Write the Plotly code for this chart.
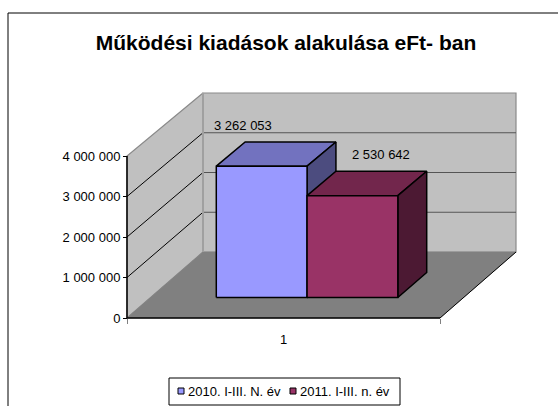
import plotly.graph_objects as go

# ---- data ----
categories = ["1"]
series_names = ["2010. I-III. N. év", "2011. I-III. n. év"]
series_values = [3262053, 2530642]
value_ticks = [0, 1000000, 2000000, 3000000, 4000000]
value_tick_labels = ["0", "1 000 000", "2 000 000", "3 000 000", "4 000 000"]
title_text = "Működési kiadások alakulása eFt- ban"

# ---- style ----
series_colors = ["#9999FF", "#993366"]
FONT = "Liberation Sans, Arial, sans-serif"
FIG_W, FIG_H = 558, 406

# oblique 3-D box: front-left floor corner, category width, value scale (px)
AX_LEFT_PX = 127
CAT_PX = 313
FLOOR_Y_PX = 318
PX_PER_VAL = 40.5e-6
DEPTH_DX_PX, DEPTH_DY_PX = 76, 66
PERSPECTIVE = 0.0185
GROUP_WIDTH = 0.58          # share of the category taken by the bars
BAR_D0, BAR_D1 = 0.31, 0.69  # depth span of the bars
LABEL_XSHIFT = [-48, 0]
VMAX = value_ticks[-1]


def proj(u, v, d):
    """Project (category position, value, depth 0..1) to axis coordinates."""
    x = u + d * DEPTH_DX_PX / CAT_PX
    y = v * (1 - PERSPECTIVE * d) + d * DEPTH_DY_PX / PX_PER_VAL
    return x, y


def shade(hex_color, k):
    h = hex_color.lstrip("#")
    r, g, b = (int(h[i:i + 2], 16) for i in (0, 2, 4))
    return "rgb({},{},{})".format(int(r * k), int(g * k), int(b * k))


def poly(points, fill, line_color, line_width):
    xs = [p[0] for p in points] + [points[0][0]]
    ys = [p[1] for p in points] + [points[0][1]]
    return go.Scatter(x=xs, y=ys, mode="lines", fill="toself", fillcolor=fill,
                      line=dict(color=line_color, width=line_width),
                      hoverinfo="skip", showlegend=False)


def seg(a, b, color, width):
    return go.Scatter(x=[a[0], b[0]], y=[a[1], b[1]], mode="lines",
                      line=dict(color=color, width=width),
                      hoverinfo="skip", showlegend=False)


fig = go.Figure()
L, R = -0.5, 0.5

# walls and floor
fig.add_trace(poly([proj(L, 0, 1), proj(R, 0, 1), proj(R, VMAX, 1), proj(L, VMAX, 1)],
                   "#C0C0C0", "#8a8a8a", 1.2))
fig.add_trace(poly([proj(L, 0, 0), proj(L, 0, 1), proj(L, VMAX, 1), proj(L, VMAX, 0)],
                   "#C0C0C0", "#8a8a8a", 1.2))
fig.add_trace(poly([proj(L, 0, 0), proj(R, 0, 0), proj(R, 0, 1), proj(L, 0, 1)],
                   "#808080", "#808080", 0.5))

# gridlines on the walls
for t in value_ticks[1:-1]:
    fig.add_trace(seg(proj(L, t, 1), proj(R, t, 1), "#555555", 1))
    fig.add_trace(seg(proj(L, t, 0), proj(L, t, 1), "#000000", 1))

# wall corner and box edges
fig.add_trace(seg(proj(L, 0, 1), proj(L, VMAX, 1), "#a0a0a0", 2))
fig.add_trace(seg(proj(L, 0, 0), proj(L, VMAX, 0), "#000000", 1.5))
fig.add_trace(seg(proj(L, 0, 0), proj(R, 0, 0), "#000000", 1.5))
fig.add_trace(seg(proj(R, 0, 0), proj(R, 0, 1), "#000000", 1))

# bars
n = len(series_values)
bw = GROUP_WIDTH / n
annotations = []
for i, (name, v, col) in enumerate(zip(series_names, series_values, series_colors)):
    u0 = -GROUP_WIDTH / 2 + i * bw
    u1 = u0 + bw
    top = [proj(u0, v, BAR_D0), proj(u1, v, BAR_D0), proj(u1, v, BAR_D1), proj(u0, v, BAR_D1)]
    side = [proj(u1, 0, BAR_D0), proj(u1, 0, BAR_D1), proj(u1, v, BAR_D1), proj(u1, v, BAR_D0)]
    front = [proj(u0, 0, BAR_D0), proj(u1, 0, BAR_D0), proj(u1, v, BAR_D0), proj(u0, v, BAR_D0)]
    fig.add_trace(poly(top, shade(col, 0.75), "#000000", 1.5))
    fig.add_trace(poly(side, shade(col, 0.5), "#000000", 1.5))
    fig.add_trace(poly(front, col, "#000000", 1.5))
    lx, ly = proj((u0 + u1) / 2, v, BAR_D1)
    annotations.append(dict(x=lx, y=ly, xref="x", yref="y", showarrow=False,
                            text="{:,}".format(v).replace(",", " "),
                            xshift=LABEL_XSHIFT[i], yshift=17,
                            font=dict(family=FONT, size=13, color="#000000")))


def px(x):
    return x / FIG_W


def py(y):
    return 1 - y / FIG_H


# legend
shapes = [
    dict(type="rect", xref="paper", yref="paper", x0=px(8), y0=py(13), x1=px(561), y1=py(409),
         line=dict(color="#000000", width=1), layer="below"),
    dict(type="rect", xref="paper", yref="paper", x0=px(169), y0=py(378), x1=px(400), y1=py(405),
         line=dict(color="#000000", width=1), fillcolor="#FFFFFF"),
]
legend_marker_x = [178, 290]
legend_text_x = [186, 298]
for i, (name, col) in enumerate(zip(series_names, series_colors)):
    shapes.append(dict(type="rect", xref="paper", yref="paper",
                       x0=px(legend_marker_x[i]), x1=px(legend_marker_x[i] + 6),
                       y0=py(388), y1=py(394), fillcolor=col,
                       line=dict(color="#000000", width=1)))
    annotations.append(dict(x=px(legend_text_x[i]), y=py(391.5), xref="paper", yref="paper",
                            xanchor="left", yanchor="middle", showarrow=False, text=name,
                            font=dict(family=FONT, size=13, color="#000000")))

x0 = L - AX_LEFT_PX / CAT_PX
fig.update_layout(
    width=FIG_W, height=FIG_H,
    margin=dict(l=0, r=0, t=0, b=0),
    paper_bgcolor="#FFFFFF", plot_bgcolor="#FFFFFF",
    showlegend=False,
    title=dict(text=title_text, x=px(286), y=py(43), xanchor="center", yanchor="middle",
               xref="paper", yref="paper",
               font=dict(family=FONT, size=21, color="#000000", weight="bold")),
    xaxis=dict(range=[x0, x0 + FIG_W / CAT_PX], anchor="free",
               position=(FIG_H - FLOOR_Y_PX) / FIG_H,
               tickmode="array", tickvals=[0], ticktext=categories, ticks="",
               ticklabelstandoff=12,
               minor=dict(tickmode="array", tickvals=[L, R], ticks="outside",
                          ticklen=5, tickcolor="#808080", tickwidth=1),
               showgrid=False, zeroline=False, showline=False, fixedrange=True,
               tickfont=dict(family=FONT, size=13, color="#000000")),
    yaxis=dict(range=[-(FIG_H - FLOOR_Y_PX) / PX_PER_VAL, FLOOR_Y_PX / PX_PER_VAL],
               anchor="free", position=AX_LEFT_PX / FIG_W,
               tickmode="array", tickvals=value_ticks, ticktext=value_tick_labels,
               ticks="outside", ticklen=4, tickcolor="#000000", tickwidth=1,
               showgrid=False, zeroline=False, showline=False, fixedrange=True,
               tickfont=dict(family=FONT, size=13, color="#000000")),
    shapes=shapes,
    annotations=annotations,
)

fig.write_html("out.html")
